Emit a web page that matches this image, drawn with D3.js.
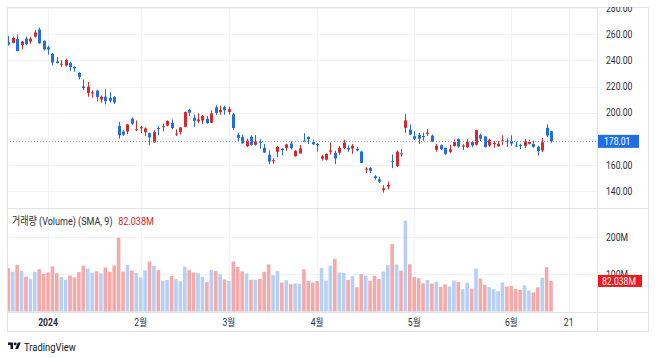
<html>
<head>
<meta charset="utf-8">
<script src="https://d3js.org/d3.v7.min.js"></script>
<style>
    body { margin: 0; background: #fff; }
    text { font-family: Roboto, 'Noto Sans CJK KR', sans-serif; }
</style>
</head>
<body>
<div id="chart"></div>
<script>
// daily bars, Dec 18 2023 .. Jun 14 2024
var dates = [
  "2023-12-18","2023-12-19","2023-12-20","2023-12-21","2023-12-22","2023-12-26","2023-12-27","2023-12-28","2023-12-29",
  "2024-01-02","2024-01-03","2024-01-04","2024-01-05","2024-01-08","2024-01-09","2024-01-10","2024-01-11","2024-01-12","2024-01-16","2024-01-17","2024-01-18","2024-01-19","2024-01-22","2024-01-23","2024-01-24","2024-01-25","2024-01-26","2024-01-29","2024-01-30","2024-01-31",
  "2024-02-01","2024-02-02","2024-02-05","2024-02-06","2024-02-07","2024-02-08","2024-02-09","2024-02-12","2024-02-13","2024-02-14","2024-02-15","2024-02-16","2024-02-20","2024-02-21","2024-02-22","2024-02-23","2024-02-26","2024-02-27","2024-02-28","2024-02-29",
  "2024-03-01","2024-03-04","2024-03-05","2024-03-06","2024-03-07","2024-03-08","2024-03-11","2024-03-12","2024-03-13","2024-03-14","2024-03-15","2024-03-18","2024-03-19","2024-03-20","2024-03-21","2024-03-22","2024-03-25","2024-03-26","2024-03-27","2024-03-28",
  "2024-04-01","2024-04-02","2024-04-03","2024-04-04","2024-04-05","2024-04-08","2024-04-09","2024-04-10","2024-04-11","2024-04-12","2024-04-15","2024-04-16","2024-04-17","2024-04-18","2024-04-19","2024-04-22","2024-04-23","2024-04-24","2024-04-25","2024-04-26","2024-04-29","2024-04-30",
  "2024-05-01","2024-05-02","2024-05-03","2024-05-06","2024-05-07","2024-05-08","2024-05-09","2024-05-10","2024-05-13","2024-05-14","2024-05-15","2024-05-16","2024-05-17","2024-05-20","2024-05-21","2024-05-22","2024-05-23","2024-05-24","2024-05-28","2024-05-29","2024-05-30","2024-05-31",
  "2024-06-03","2024-06-04","2024-06-05","2024-06-06","2024-06-07","2024-06-10","2024-06-11","2024-06-12","2024-06-13","2024-06-14"
];
var futureDates = ["2024-06-17","2024-06-18","2024-06-20","2024-06-21"];

var open = [
  253.78,253.48,256.41,251.90,256.76,254.49,258.35,263.66,255.10,
  250.08,244.98,239.25,236.86,236.14,238.11,235.10,230.57,220.08,215.10,214.86,216.88,209.99,212.26,211.30,211.88,189.70,185.50,185.63,195.33,187.00,
  188.50,185.04,184.26,177.21,188.18,189.00,190.18,192.11,183.99,185.30,189.16,202.06,196.13,193.36,194.00,195.31,192.29,204.04,200.42,204.18,
  200.52,198.73,183.05,181.27,174.35,181.50,175.45,177.77,173.05,167.77,163.16,170.02,172.36,173.00,176.39,166.69,168.76,178.58,181.41,177.45,
  176.17,164.75,164.02,170.07,169.08,169.34,172.91,173.04,172.55,172.34,170.24,156.74,157.64,151.25,148.97,140.56,143.33,162.84,158.96,168.85,188.42,186.98,
  182.00,182.86,182.10,183.80,182.40,171.59,175.01,173.05,170.00,174.50,179.90,174.10,173.55,177.56,175.51,182.85,181.80,174.84,176.40,174.19,178.58,178.50,
  178.13,174.78,175.35,174.60,176.13,176.06,173.92,171.12,188.39,185.80
];
var high = [
  258.74,258.34,259.84,254.80,258.22,257.97,263.34,265.13,255.19,
  251.25,245.68,242.70,240.12,241.25,238.96,235.50,230.93,225.34,223.49,217.00,217.45,213.19,217.80,215.65,212.73,193.00,186.78,191.48,196.36,193.97,
  189.88,188.69,184.68,186.49,189.79,191.62,194.12,194.73,187.26,188.89,200.88,203.17,198.60,199.44,198.32,197.57,201.78,205.60,205.30,205.28,
  204.52,199.75,184.59,183.09,180.04,182.73,182.87,179.43,176.05,171.17,165.18,174.72,172.82,176.25,178.18,171.20,175.24,184.25,181.91,179.57,
  176.75,167.69,168.82,177.19,170.86,174.50,179.22,174.93,175.88,173.81,170.69,158.19,158.33,152.20,150.94,144.44,147.26,167.97,170.88,172.12,198.87,190.95,
  185.86,184.60,184.78,187.56,183.26,176.06,175.62,173.06,175.40,179.49,180.00,175.79,179.63,177.75,186.88,183.80,181.90,180.08,178.25,178.15,182.67,180.32,
  182.64,177.76,176.15,179.73,179.35,178.57,174.75,180.55,191.08,186.00
];
var low = [
  251.36,253.01,247.00,248.55,251.37,252.91,257.52,252.71,247.43,
  244.41,236.32,237.73,234.90,235.30,232.04,231.29,225.37,217.15,212.18,211.41,208.74,207.56,206.27,207.75,206.77,180.06,182.10,183.67,190.61,185.85,
  184.28,182.00,175.01,177.11,182.68,185.58,189.48,187.28,182.11,183.35,188.86,197.40,189.13,191.95,191.36,191.50,192.00,198.26,198.44,198.45,
  198.50,186.72,177.57,176.25,173.70,174.70,174.80,172.41,169.15,160.51,160.76,165.90,167.42,170.82,171.80,166.30,168.73,177.38,176.00,175.30,
  170.21,163.43,163.28,168.01,160.51,167.79,171.92,170.01,168.51,170.36,161.38,153.75,153.78,148.70,146.22,138.80,141.11,157.51,158.36,166.37,184.54,182.84,
  179.01,176.02,178.42,182.20,177.40,170.15,171.37,167.75,169.00,174.07,173.11,171.43,172.75,173.52,174.71,178.12,173.26,173.73,173.16,173.93,175.38,173.82,
  174.49,174.00,172.13,172.73,175.58,173.17,167.41,169.80,181.23,176.92
];
var close = [
  252.08,257.22,247.14,254.50,252.54,256.61,261.44,253.18,248.48,
  248.42,238.45,237.93,237.49,240.45,234.96,233.94,227.22,218.89,219.91,215.55,211.88,212.19,208.80,209.14,207.83,182.63,183.25,190.93,191.59,187.29,
  188.86,187.91,181.06,185.10,187.58,189.56,193.57,188.13,184.02,188.71,200.45,199.95,193.76,194.77,197.41,191.97,199.40,199.73,202.04,201.88,
  202.64,188.14,180.74,176.54,178.65,175.34,177.77,177.54,169.48,162.50,163.57,173.80,171.32,175.66,172.82,170.83,172.63,177.67,179.83,175.79,
  175.22,166.63,168.38,171.11,164.90,172.98,176.88,171.76,174.60,171.05,161.48,157.11,155.45,149.93,147.05,142.05,144.68,162.13,170.18,168.29,194.05,183.28,
  179.99,180.01,181.19,184.76,177.81,174.72,171.97,168.47,171.89,177.55,173.99,174.84,177.46,174.95,186.60,180.11,173.74,179.24,176.75,176.19,178.79,178.08,
  176.29,174.77,175.00,177.94,177.48,173.79,170.66,177.29,182.47,178.01
];
// volume in millions
var volume = [
  116.4,106.7,125.1,109.6,93.2,86.9,106.5,113.6,100.9,
  104.7,121.1,102.6,92.4,85.2,96.7,91.6,105.9,123.0,115.4,103.2,108.1,102.1,117.9,106.6,123.4,198.1,107.3,125.0,110.0,103.2,
  91.4,110.5,134.3,122.7,111.5,83.0,84.5,95.5,86.8,81.2,120.8,111.2,104.5,103.8,92.7,78.7,111.7,108.6,99.8,85.9,
  82.1,134.3,119.7,107.9,102.1,85.3,85.4,87.4,106.5,126.3,97.0,108.2,77.3,83.8,73.3,75.5,74.2,113.2,81.8,77.7,
  81.6,116.6,83.0,123.2,141.3,104.4,103.2,84.5,94.5,64.9,100.2,97.0,82.4,96.1,87.1,107.1,124.5,181.2,126.4,109.8,243.9,127.0,
  92.8,89.1,75.5,84.4,75.0,80.0,66.0,72.6,67.0,83.0,79.4,59.8,77.4,61.7,115.3,88.3,71.9,65.6,59.7,54.8,77.8,67.3,
  68.6,60.1,58.0,69.9,56.2,50.9,64.8,90.6,119.0,82.038
];

var timeLabels = ["2024", "2월", "3월", "4월", "5월", "6월", "21"];
var timeDates  = ["2024-01-02","2024-02-01","2024-03-01","2024-04-01","2024-05-01","2024-06-03","2024-06-21"];
var priceTicks = [140, 160, 180, 200, 220, 240, 260, 280];
var volTicks = [100, 200];
var volTickLabels = ["100M", "200M"];

var width = 658, height = 358;
var left = 7, right = 597, axisRight = 649;
var paneTop = 7, paneBottom = 208, volBottom = 312, timeBottom = 332;

var upColor = "#d8262a", downColor = "#1f6fe3";
var volUp = "#b6cff4", volDown = "#f5a9a9";
var gridColor = "#f0f3fa", borderColor = "#e0e3eb", textColor = "#2a2e39";

var allDates = dates.concat(futureDates);
var last = dates.length - 1;

var svg = d3.select("#chart").append("svg")
    .attr("width", width)
    .attr("height", height);

var xs = d3.scaleLinear().domain([0, 123]).range([8.3, 551]);
var ys = d3.scaleLinear().domain([140, 260]).range([191, 34.3]);
var vs = d3.scaleLinear().domain([0, 200]).range([311.5, 237]);

// clip regions
var defs = svg.append("defs");
defs.append("clipPath").attr("id", "pricePane").append("rect")
    .attr("x", left).attr("y", paneTop).attr("width", right - left).attr("height", paneBottom - paneTop);
defs.append("clipPath").attr("id", "volPane").append("rect")
    .attr("x", left).attr("y", paneBottom).attr("width", right - left).attr("height", volBottom - paneBottom);
defs.append("clipPath").attr("id", "priceAxis").append("rect")
    .attr("x", right).attr("y", paneTop).attr("width", axisRight - right).attr("height", paneBottom - paneTop);

// condensed text helper (screenshot is narrow)
function label(g, x, y, str, anchor) {
    return g.append("text")
        .attr("transform", "translate(" + x + "," + y + ") scale(0.82,1)")
        .attr("text-anchor", anchor || "start")
        .text(str);
}

// grid
var grid = svg.append("g").attr("stroke", gridColor).attr("stroke-width", 1);
timeDates.forEach(function(d) {
    var px = Math.round(xs(allDates.indexOf(d))) + 0.5;
    grid.append("line").attr("x1", px).attr("x2", px).attr("y1", paneTop).attr("y2", volBottom);
});
priceTicks.forEach(function(p) {
    var py = Math.round(ys(p)) + 0.5;
    if (py > paneTop && py < paneBottom)
        grid.append("line").attr("x1", left).attr("x2", right).attr("y1", py).attr("y2", py);
});
volTicks.forEach(function(v) {
    var py = Math.round(vs(v)) + 0.5;
    grid.append("line").attr("x1", left).attr("x2", right).attr("y1", py).attr("y2", py);
});

// volume bars
svg.append("g").attr("clip-path", "url(#volPane)")
    .selectAll("rect")
    .data(volume)
    .enter()
    .append("rect")
    .attr("x", function(d, i) { return xs(i) - 1.8; })
    .attr("width", 3.6)
    .attr("y", function(d) { return vs(d); })
    .attr("height", function(d) { return vs(0) - vs(d); })
    .attr("fill", function(d, i) { return close[i] >= open[i] ? volUp : volDown; });

// candles
var candles = svg.append("g").attr("clip-path", "url(#pricePane)")
    .selectAll("g")
    .data(dates)
    .enter()
    .append("g")
    .attr("fill", function(d, i) { return close[i] >= open[i] ? upColor : downColor; })
    .attr("stroke", function(d, i) { return close[i] >= open[i] ? upColor : downColor; });

candles.append("line")
    .attr("x1", function(d, i) { return Math.round(xs(i)) + 0.5; })
    .attr("x2", function(d, i) { return Math.round(xs(i)) + 0.5; })
    .attr("y1", function(d, i) { return ys(high[i]); })
    .attr("y2", function(d, i) { return ys(low[i]); })
    .attr("stroke-width", 1);

candles.append("rect")
    .attr("stroke", "none")
    .attr("x", function(d, i) { return Math.round(xs(i)) - 1; })
    .attr("width", 3)
    .attr("y", function(d, i) { return ys(Math.max(open[i], close[i])); })
    .attr("height", function(d, i) { return Math.max(1, Math.abs(ys(open[i]) - ys(close[i]))); });

// last price line
var lastY = Math.round(ys(close[last])) + 0.5;
svg.append("line")
    .attr("x1", left).attr("x2", right)
    .attr("y1", lastY).attr("y2", lastY)
    .attr("stroke", "#9aa8bd")
    .attr("stroke-dasharray", "1,2");

// frame
var frame = svg.append("g").attr("stroke", borderColor).attr("stroke-width", 1).attr("fill", "none");
frame.append("rect").attr("x", left + 0.5).attr("y", paneTop + 0.5)
    .attr("width", axisRight - left - 1).attr("height", timeBottom - paneTop - 1);
frame.append("line").attr("x1", left).attr("x2", axisRight).attr("y1", paneBottom + 0.5).attr("y2", paneBottom + 0.5);
frame.append("line").attr("x1", left).attr("x2", axisRight).attr("y1", volBottom + 0.5).attr("y2", volBottom + 0.5);
frame.append("line").attr("x1", right + 0.5).attr("x2", right + 0.5).attr("y1", paneTop).attr("y2", timeBottom);

// price axis (labels hidden where the last-price box sits)
var priceAxis = svg.append("g")
    .attr("clip-path", "url(#priceAxis)")
    .attr("font-size", 10.5)
    .attr("fill", textColor);
priceTicks.forEach(function(p) {
    if (Math.abs(ys(p) - ys(close[last])) > 12)
        label(priceAxis, 606, ys(p) + 3.8, d3.format(".2f")(p));
});
svg.append("rect")
    .attr("x", right + 1).attr("y", ys(close[last]) - 6.5)
    .attr("width", 41).attr("height", 13)
    .attr("fill", close[last] >= open[last] ? upColor : downColor);
label(svg, 604, ys(close[last]) + 3.8, d3.format(".2f")(close[last]))
    .attr("fill", "#fff").attr("font-size", 10.5);

// volume axis
var volAxis = svg.append("g").attr("font-size", 10.5).attr("fill", textColor);
volTicks.forEach(function(v, i) {
    label(volAxis, 606, vs(v) + 3.8, volTickLabels[i]);
});
svg.append("rect")
    .attr("x", right + 1).attr("y", vs(volume[last]) - 6)
    .attr("width", 44).attr("height", 12)
    .attr("fill", "#f01818");
label(svg, 602, vs(volume[last]) + 3.8, d3.format(".3f")(volume[last]) + "M")
    .attr("fill", "#fff").attr("font-size", 10.5);

// volume legend
var legend = label(svg, 12, 225, "거래량 (Volume) (SMA, 9)")
    .attr("font-size", 11)
    .attr("fill", textColor);
legend.append("tspan")
    .attr("dx", 7)
    .attr("fill", "#c62828")
    .text(d3.format(".3f")(volume[last]) + "M");

// time axis
var timeAxis = svg.append("g").attr("font-size", 10.5).attr("fill", textColor);
timeDates.forEach(function(d, i) {
    label(timeAxis, xs(allDates.indexOf(d)), 326, timeLabels[i], "middle")
        .attr("font-weight", i == 0 ? "bold" : "normal");
});

// TradingView logo
var logo = svg.append("g").attr("transform", "translate(8,341) scale(0.36)").attr("fill", "#131722");
logo.append("path").attr("d", "M14 22H7V11H0V4h14v18z");
logo.append("path").attr("d", "M28 22h-8l7.5-18h8L28 22z");
logo.append("circle").attr("cx", 20).attr("cy", 8).attr("r", 4);
label(svg, 24, 350.5, "TradingView").attr("font-size", 11.5).attr("fill", "#131722");
</script>
</body>
</html>
